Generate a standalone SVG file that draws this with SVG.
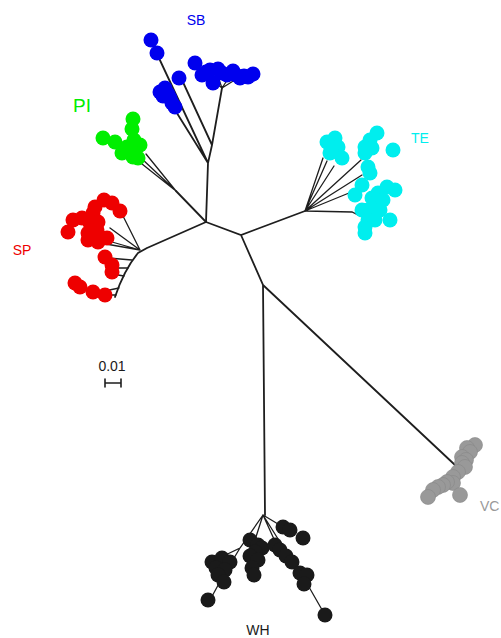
<svg xmlns="http://www.w3.org/2000/svg" width="501" height="638" viewBox="0 0 501 638">
<style>
.e{fill:none;stroke:#1e1e1e;stroke-width:1.8;stroke-linecap:round}
.t{stroke-width:1.3}
circle{r:7.5px}
.sb{fill:#0000ee}
.pi{fill:#00ee00}
.te{fill:#00eeee}
.sp{fill:#ee0000}
.vc{fill:#999999;stroke:#888;stroke-width:0.6}
.wh{fill:#1a1a1a}
text{font-family:"Liberation Sans",Arial,sans-serif;font-size:14px}
</style>
<rect width="501" height="638" fill="#ffffff"/>
<g id="edges">
<path class="e" d="M206,222 L147,248 M147,248 L138,253 Q124,270 115,297"/>
<path class="e" d="M206,222 L208,163 L212,145 L222,88 M208,163 L158,56 M208,163 L175,110 M212,145 L182,80"/>
<path class="e t" d="M222,88 L212,80 M222,88 L230,76 M222,88 L217,74 M222,88 L238,78"/>
<path class="e" d="M206,222 L176,191"/>
<path class="e t" d="M176,191 L141,158 M176,191 L146,154 M176,191 L137,160"/>
<path class="e t" d="M140,250 L121,212 M140,250 L110,228 M140,250 L98,238 M140,250 L106,244 M132,260 L108,258 M128,268 L112,268 M124,276 L112,274 M119,288 L100,292 M116,295 L105,295"/>
<path class="e" d="M206,222 L241,235 L305,211 M241,235 L263,285 L265,515 M263,285 L455,465"/>
<path class="e t" d="M305,211 L323,158 M305,211 L327,161 M305,211 L334,166 M305,211 L361,160 M305,211 L362,175 M305,211 L349,193 M305,211 L352,212 L360,216"/>
<path class="e t" d="M263,515 L283,527 M263,515 L240,548 L215,560 M263,515 L255,540 M263,515 L278,548 L305,580 L325,615 M263,515 L290,558 M240,548 L222,578 L210,600"/>
</g>
<g id="SB">
<circle class="sb" cx="151" cy="40"/><circle class="sb" cx="157" cy="53"/>
<circle class="sb" cx="195" cy="63"/><circle class="sb" cx="179" cy="78"/>
<circle class="sb" cx="202" cy="75"/><circle class="sb" cx="206" cy="72"/><circle class="sb" cx="210" cy="70"/><circle class="sb" cx="218" cy="69"/><circle class="sb" cx="222" cy="73"/><circle class="sb" cx="213" cy="83"/><circle class="sb" cx="227" cy="75"/><circle class="sb" cx="233" cy="71"/><circle class="sb" cx="236" cy="75"/><circle class="sb" cx="240" cy="78"/><circle class="sb" cx="244" cy="76"/><circle class="sb" cx="248" cy="77"/><circle class="sb" cx="253" cy="74"/>
<circle class="sb" cx="160" cy="92"/><circle class="sb" cx="165" cy="88"/><circle class="sb" cx="163" cy="96"/><circle class="sb" cx="168" cy="94"/><circle class="sb" cx="170" cy="98"/><circle class="sb" cx="172" cy="103"/><circle class="sb" cx="175" cy="107"/>
<text x="196" y="25" text-anchor="middle" fill="#0000ee">SB</text>
</g>
<g id="PI">
<circle class="pi" cx="133" cy="119"/><circle class="pi" cx="132" cy="129"/><circle class="pi" cx="103" cy="138"/><circle class="pi" cx="115" cy="142"/><circle class="pi" cx="127" cy="147"/><circle class="pi" cx="140" cy="145"/><circle class="pi" cx="122" cy="153"/><circle class="pi" cx="133" cy="157"/><circle class="pi" cx="138" cy="158"/><circle class="pi" cx="128" cy="150"/><circle class="pi" cx="134" cy="140"/>
<text x="82" y="112" text-anchor="middle" fill="#00ee00" style="font-size:19px">PI</text>
</g>
<g id="SP">
<circle class="sp" cx="95" cy="207"/><circle class="sp" cx="93" cy="213"/><circle class="sp" cx="73" cy="220"/><circle class="sp" cx="82" cy="218"/><circle class="sp" cx="90" cy="223"/><circle class="sp" cx="98" cy="222"/><circle class="sp" cx="68" cy="232"/><circle class="sp" cx="88" cy="233"/><circle class="sp" cx="88" cy="240"/><circle class="sp" cx="98" cy="242"/><circle class="sp" cx="107" cy="238"/><circle class="sp" cx="105" cy="257"/><circle class="sp" cx="112" cy="265"/><circle class="sp" cx="112" cy="272"/><circle class="sp" cx="75" cy="283"/><circle class="sp" cx="80" cy="287"/><circle class="sp" cx="93" cy="292"/><circle class="sp" cx="105" cy="295"/><circle class="sp" cx="120" cy="211"/><circle class="sp" cx="112" cy="203"/><circle class="sp" cx="104" cy="200"/><circle class="sp" cx="97" cy="230"/>
<text x="22" y="255" text-anchor="middle" fill="#ee0000">SP</text>
</g>
<g id="TE">
<circle class="te" cx="327" cy="142"/><circle class="te" cx="335" cy="138"/><circle class="te" cx="338" cy="147"/><circle class="te" cx="331" cy="148"/><circle class="te" cx="330" cy="153"/><circle class="te" cx="342" cy="158"/><circle class="te" cx="377" cy="133"/><circle class="te" cx="370" cy="140"/><circle class="te" cx="365" cy="147"/><circle class="te" cx="372" cy="148"/><circle class="te" cx="393" cy="150"/><circle class="te" cx="365" cy="153"/><circle class="te" cx="368" cy="167"/><circle class="te" cx="370" cy="173"/><circle class="te" cx="362" cy="185"/><circle class="te" cx="355" cy="195"/><circle class="te" cx="387" cy="187"/><circle class="te" cx="395" cy="190"/><circle class="te" cx="378" cy="193"/><circle class="te" cx="372" cy="198"/><circle class="te" cx="375" cy="203"/><circle class="te" cx="380" cy="210"/><circle class="te" cx="368" cy="210"/><circle class="te" cx="362" cy="210"/><circle class="te" cx="372" cy="215"/><circle class="te" cx="390" cy="220"/><circle class="te" cx="368" cy="220"/><circle class="te" cx="365" cy="227"/><circle class="te" cx="365" cy="233"/><circle class="te" cx="375" cy="220"/><circle class="te" cx="383" cy="200"/>
<text x="420" y="143" text-anchor="middle" fill="#00eeee">TE</text>
</g>
<g id="VC">
<circle class="vc" cx="475" cy="445"/><circle class="vc" cx="467" cy="448"/><circle class="vc" cx="470" cy="452"/><circle class="vc" cx="462" cy="457"/><circle class="vc" cx="466" cy="460"/><circle class="vc" cx="462" cy="463"/><circle class="vc" cx="465" cy="467"/><circle class="vc" cx="458" cy="472"/><circle class="vc" cx="453" cy="477"/><circle class="vc" cx="453" cy="483"/><circle class="vc" cx="447" cy="482"/><circle class="vc" cx="443" cy="485"/><circle class="vc" cx="438" cy="487"/><circle class="vc" cx="433" cy="490"/><circle class="vc" cx="428" cy="497"/><circle class="vc" cx="460" cy="495" r="7"/>
<text x="480" y="511" fill="#999999">VC</text>
</g>
<g id="WH">
<circle class="wh" cx="283" cy="527"/><circle class="wh" cx="290" cy="530"/><circle class="wh" cx="303" cy="538"/><circle class="wh" cx="212" cy="562"/><circle class="wh" cx="222" cy="558"/><circle class="wh" cx="230" cy="562"/><circle class="wh" cx="216" cy="568"/><circle class="wh" cx="225" cy="570"/><circle class="wh" cx="218" cy="575"/><circle class="wh" cx="224" cy="582"/><circle class="wh" cx="208" cy="600" r="7"/><circle class="wh" cx="250" cy="540"/><circle class="wh" cx="258" cy="545"/><circle class="wh" cx="262" cy="548"/><circle class="wh" cx="255" cy="552"/><circle class="wh" cx="250" cy="556"/><circle class="wh" cx="258" cy="560"/><circle class="wh" cx="252" cy="568"/><circle class="wh" cx="254" cy="575"/><circle class="wh" cx="275" cy="545"/><circle class="wh" cx="280" cy="550"/><circle class="wh" cx="286" cy="556"/><circle class="wh" cx="292" cy="562"/><circle class="wh" cx="300" cy="573"/><circle class="wh" cx="307" cy="575"/><circle class="wh" cx="304" cy="584"/><circle class="wh" cx="325" cy="615" r="7"/>
<text x="258" y="635" text-anchor="middle" fill="#1a1a1a">WH</text>
</g>
<g id="scale">
<text x="112" y="371" text-anchor="middle" fill="#1a1a1a">0.01</text>
<path class="e" d="M105,383 L121,383 M105,379 L105,387 M121,379 L121,387" style="stroke-width:1.6"/>
</g>
</svg>
